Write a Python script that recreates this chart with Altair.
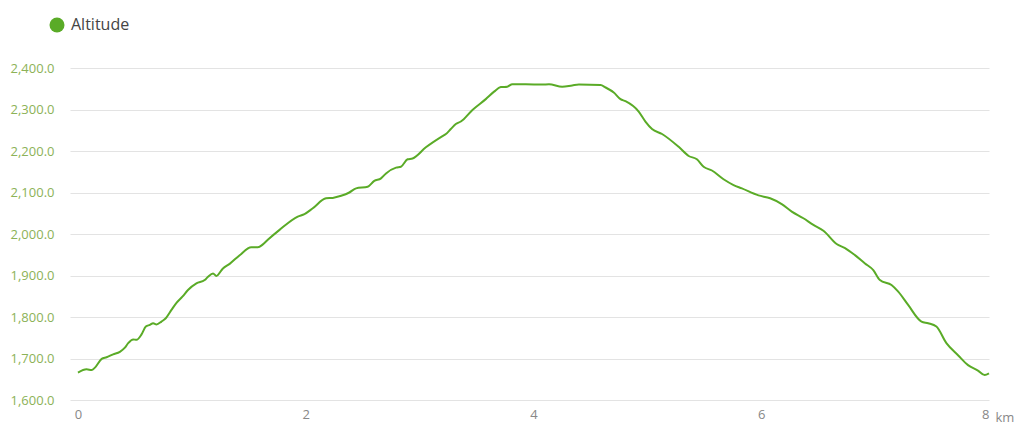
import altair as alt
import pandas as pd

distance_km = [0.00, 0.076, 0.12, 0.149, 0.208, 0.251, 0.309, 0.368, 0.412, 0.441, 0.485, 0.514,
               0.558, 0.596, 0.631, 0.660, 0.690, 0.733, 0.771, 0.821, 0.865, 0.917, 0.966, 1.040,
               1.113, 1.142, 1.186, 1.215, 1.273, 1.332, 1.420, 1.522, 1.580, 1.624, 1.667, 1.770,
               1.930, 1.989, 2.062, 2.179, 2.237, 2.311, 2.383, 2.442, 2.544, 2.602, 2.661, 2.705,
               2.793, 2.836, 2.894, 2.938, 3.055, 3.201, 3.231, 3.274, 3.318, 3.362, 3.464, 3.581,
               3.654, 3.713, 3.770, 3.814, 3.932, 4.077, 4.136, 4.252, 4.340, 4.399, 4.589, 4.633,
               4.705, 4.764, 4.808, 4.924, 4.983, 5.041, 5.129, 5.275, 5.363, 5.435, 5.494, 5.567,
               5.669, 5.757, 5.830, 5.976, 6.078, 6.180, 6.268, 6.370, 6.458, 6.546, 6.662, 6.736,
               6.823, 6.911, 6.984, 7.042, 7.144, 7.203, 7.290, 7.407, 7.466, 7.538, 7.626, 7.728,
               7.816, 7.903, 7.962, 8.000]
altitude_m = [1666, 1674, 1672, 1678, 1699, 1703, 1710, 1716, 1726, 1737, 1746, 1745,
              1758, 1777, 1781, 1785, 1782, 1789, 1797, 1817, 1834, 1849, 1865, 1881,
              1889, 1897, 1905, 1899, 1917, 1928, 1949, 1968, 1968, 1975, 1986, 2010,
              2042, 2048, 2062, 2086, 2087, 2092, 2100, 2110, 2114, 2128, 2134, 2146,
              2160, 2162, 2180, 2182, 2209, 2236, 2241, 2253, 2265, 2271, 2299, 2325,
              2343, 2354, 2355, 2361, 2361, 2360, 2361, 2355, 2358, 2360, 2359, 2353,
              2341, 2325, 2320, 2295, 2271, 2253, 2241, 2210, 2188, 2180, 2162, 2153,
              2132, 2118, 2110, 2093, 2086, 2072, 2054, 2038, 2022, 2008, 1976, 1966,
              1949, 1929, 1913, 1889, 1877, 1861, 1829, 1789, 1785, 1777, 1737, 1708,
              1684, 1671, 1660, 1664]
series_name = "Altitude"
x_ticks = [0, 2, 4, 6, 8]
y_ticks = [1600, 1700, 1800, 1900, 2000, 2100, 2200, 2300, 2400]

df = pd.DataFrame({"km": distance_km, "alt": altitude_m, "series": series_name})

FONT = "Open Sans"
GREEN = "#5aab27"

chart = alt.Chart(df).mark_line(strokeWidth=2, interpolate="monotone").encode(
    x=alt.X("km:Q",
            scale=alt.Scale(domain=[-0.07, 8.0], nice=False, zero=False),
            axis=alt.Axis(values=x_ticks, grid=False, domain=False, ticks=False,
                          labelColor="#888888", labelFont=FONT, labelFontSize=13,
                          labelPadding=8, title="km", titleFont=FONT, titleFontSize=13,
                          titleFontWeight="normal", titleColor="#888888",
                          titleAnchor="end", titleAlign="left", titleX=925, titleY=21,
                          titleBaseline="alphabetic")),
    y=alt.Y("alt:Q",
            scale=alt.Scale(domain=[1600, 2400], nice=False, zero=False),
            axis=alt.Axis(values=y_ticks, format=",.1f", grid=True, gridColor="#e3e3e3",
                          gridWidth=1, domain=False, ticks=False,
                          labelColor="#8cb257", labelFont=FONT, labelFontSize=13,
                          labelPadding=16, title=None)),
    color=alt.Color("series:N", scale=alt.Scale(range=[GREEN]),
                    legend=alt.Legend(title=None, orient="none", legendX=-21, legendY=-51,
                                      symbolType="circle", symbolSize=225,
                                      symbolFillColor=GREEN, symbolStrokeWidth=0,
                                      labelFont=FONT, labelFontSize=16, labelColor="#444444",
                                      labelOffset=6)),
).properties(
    width=919, height=332,
    autosize=alt.AutoSizeParams(type="none"),
    padding={"left": 62, "top": 60, "right": 27, "bottom": 26},
).configure_view(stroke=None)

chart.save("out.html", embed_options={"renderer": "svg", "actions": False})
